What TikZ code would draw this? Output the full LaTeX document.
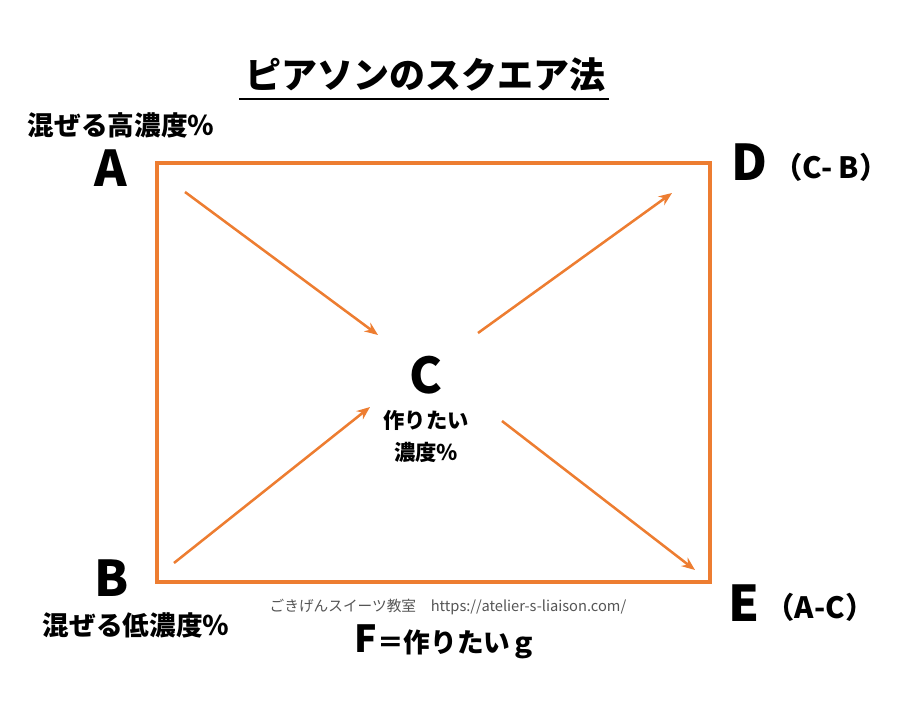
\documentclass[tikz,border=0pt]{standalone}
\usepackage{fontspec}
\setmainfont{Noto Sans CJK JP}
\usepackage{xcolor}
\definecolor{sqorange}{RGB}{237,125,49}
\definecolor{notegray}{RGB}{85,85,85}
\usepackage{tikz}
\usetikzlibrary{arrows.meta,positioning}
\tikzset{
  %% big corner letters
  letter/.style={font=\fontsize{37}{40}\selectfont\bfseries, inner sep=0pt},
  %% labels under / beside letters
  note/.style={font=\fontsize{20}{24}\selectfont\bfseries, inner sep=0pt},
  diff/.style={font=\fontsize{22}{26}\selectfont\bfseries, inner sep=0pt},
  flow/.style={draw=sqorange, line width=1.9pt,
               -{Stealth[length=10pt,width=8pt]}},
}

\begin{document}
\begin{tikzpicture}[x=0.75pt,y=-0.75pt]
\useasboundingbox (0,0) rectangle (904,720);
%% title
\node[font=\fontsize{27}{30}\selectfont\bfseries, inner sep=0pt]
  (title) at (425,75) {ピアソンのスクエア法};
\draw[line width=1.6pt] ([xshift=-4pt,yshift=-5pt]title.south west)
  -- ([xshift=3pt,yshift=-5pt]title.south east);
%% square
\draw[sqorange, line width=2.6pt] (157,163) rectangle (710,582);
%% letters
\node[letter] (A) at (111,168) {A};
\node[note] (Anote) at (121,125) {混ぜる高濃度％};
\node[letter] (B) at (112,578) {B};
\node[note] (Bnote) at (136,625) {混ぜる低濃度％};
\node[letter] (C) at (426,375) {C};
\node[font=\fontsize{16}{24}\selectfont\bfseries, align=center, inner sep=0pt]
  (Cnote) at (426,436) {作りたい\\濃度％};
\node[letter] (D) at (749,162) {D};
\node[diff] (Dnote) at (831,167) {（C- B）};
\node[letter] (E) at (744,603) {E};
\node[diff] (Enote) at (820,607) {（A-C）};
%% credit and F
\node[font=\fontsize{11}{13}\selectfont, text=notegray, inner sep=0pt]
  (credit) at (448,607) {ごきげんスイーツ教室\quad https://atelier-s-liaison.com/};
\node[font=\fontsize{20}{24}\selectfont\bfseries, inner sep=0pt]
  (F) at (446,642) {{\fontsize{28}{30}\selectfont F}＝作りたいｇ};
%% arrow ends
\coordinate (a1) at (185,192);
\coordinate (a2) at (378,335);
\coordinate (d1) at (478,333);
\coordinate (d2) at (672,193);
\coordinate (b1) at (174,563);
\coordinate (b2) at (370,407);
\coordinate (e1) at (502,421);
\coordinate (e2) at (695,570);
\draw[flow] (a1) -- (a2);
\draw[flow] (d1) -- (d2);
\draw[flow] (b1) -- (b2);
\draw[flow] (e1) -- (e2);
\end{tikzpicture}
\end{document}
